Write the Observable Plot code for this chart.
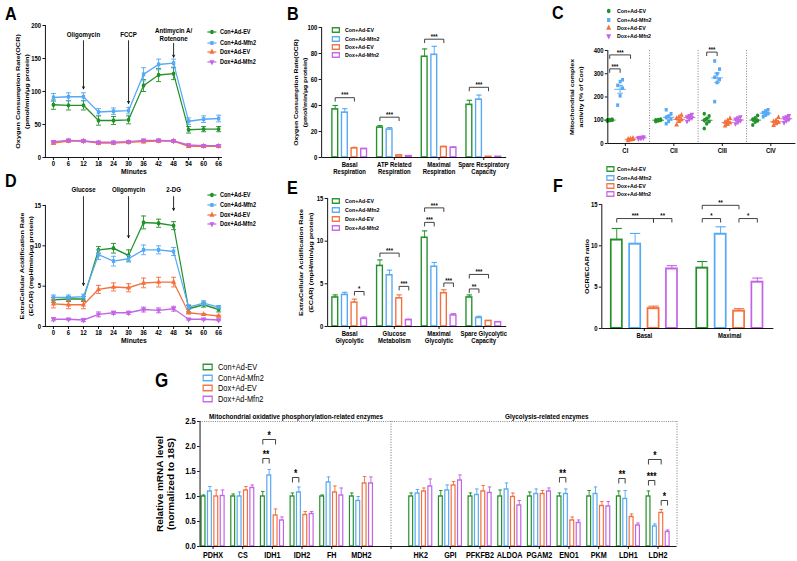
<!DOCTYPE html>
<html>
<head>
<meta charset="utf-8">
<script src="https://cdn.jsdelivr.net/npm/d3@7"></script>
<script src="https://cdn.jsdelivr.net/npm/@observablehq/plot@0.6"></script>
<style>
  html, body { margin: 0; padding: 0; background: #fff; overflow: hidden; }
  #wrap { position: relative; width: 797px; height: 561px; overflow: hidden; background: #fff; }
  #fig { position: absolute; left: 0; top: 0; height: 561px; transform-origin: 0 0;
         font-family: 'Liberation Sans', Arial, Helvetica, sans-serif; color: #000; }
  .letter { position: absolute; font-weight: bold; line-height: 1; }
  .legtext { position: absolute; line-height: 1; transform: translateY(-50%); white-space: nowrap; }
</style>
</head>
<body>
<div id="wrap"><div id="fig"></div></div>
<script>
// ================= DATA =================
const groups = ["Con+Ad-EV", "Con+Ad-Mfn2", "Dox+Ad-EV", "Dox+Ad-Mfn2"];
const colors = ["#23912a", "#56a9f5", "#f4703d", "#c463e6"];

// A: OCR time course
const minutes = [0, 6, 12, 18, 24, 30, 36, 42, 48, 54, 60, 66];
const ocrConEV = [80, 79, 79, 56, 56, 57, 109, 125, 127, 42, 43, 43];
const ocrConEVErr = [7, 7, 7, 7, 6, 6, 9, 10, 9, 5, 4, 4];
const ocrConMfn2 = [91, 92, 92, 69, 70, 71, 126, 141, 143, 55, 58, 59];
const ocrConMfn2Err = [6, 6, 6, 5, 5, 5, 10, 8, 6, 5, 5, 5];
const ocrDoxEV = [22, 25, 25, 22, 22, 23, 24, 25, 25, 17, 17, 17];
const ocrDoxEVErr = [2, 2, 2, 2, 2, 2, 2, 2, 2, 2, 2, 2];
const ocrDoxMfn2 = [24, 26, 25, 23, 23, 24, 26, 26, 25, 19, 18, 18];
const ocrDoxMfn2Err = [1.5, 1.5, 1.5, 1.5, 1.5, 1.5, 1.5, 1.5, 1.5, 1.5, 1.5, 1.5];
const ocrTicks = [0, 50, 100, 150, 200];
const ocrInjLabels = ["Oligomycin", "FCCP", "Antimycin A/\nRotenone"];
const ocrInjTimes = [12, 30, 48];
const ocrInjLabelY = [186, 186, 186];
const ocrInjTop = [177, 177, 173];
const ocrInjEnd = [104, 82, 152];

// B: OCR parameters
const ocrParams = ["Basal\nRespiration", "ATP Related\nRespiration", "Maximal\nRespiration", "Spare Respiratory\nCapacity"];
const ocrParConEV = [37, 23, 77.5, 40.5];
const ocrParConEVErr = [3, 1.5, 6, 3.5];
const ocrParConMfn2 = [34.5, 21.5, 79, 44.5];
const ocrParConMfn2Err = [3, 1.5, 6.5, 3.5];
const ocrParDoxEV = [7, 1.5, 8, 0.5];
const ocrParDoxEVErr = [0.8, 0.4, 0.6, 0.2];
const ocrParDoxMfn2 = [6.5, 1, 7.5, 0.5];
const ocrParDoxMfn2Err = [0.5, 0.3, 0.6, 0.2];
const ocrParTicks = [0, 20, 40, 60, 80, 100];
const ocrParSig = [
  {c: 0, a: 0, b: 2, h: 46, label: "***"},
  {c: 1, a: 0, b: 2, h: 31, label: "***"},
  {c: 2, a: 0, b: 2, h: 91, label: "***"},
  {c: 3, a: 0, b: 2, h: 54, label: "***"}
];

// C: mitochondrial complex activity (individual points)
const complexes = ["CI", "CII", "CIII", "CIV"];
const cxConEV = [[97, 99, 100, 101, 102, 104], [95, 98, 100, 101, 102, 104], [65, 85, 95, 100, 108, 118, 128], [80, 92, 98, 104, 110, 120]];
const cxConMfn2 = [[165, 205, 238, 250, 266, 274], [85, 95, 105, 112, 118, 128, 145], [180, 262, 275, 285, 300, 320, 355], [115, 122, 128, 133, 140, 145]];
const cxDoxEV = [[12, 15, 17, 19, 21, 23], [80, 95, 102, 108, 115, 122], [75, 82, 88, 92, 98, 108], [78, 85, 90, 95, 100, 112]];
const cxDoxMfn2 = [[20, 22, 24, 26, 27, 29], [95, 105, 110, 115, 120, 125], [85, 92, 98, 105, 110, 115], [90, 98, 104, 110, 115, 120]];
const cxTicks = [0, 100, 200, 300, 400];
const cxSig = [
  {c: 0, a: 0, b: 1, h: 321, label: "***"},
  {c: 0, a: 0, b: 2, h: 381, label: "***"},
  {c: 2, a: 0, b: 1, h: 393, label: "***"}
];

// D: ECAR time course
const ecarConEV = [3.3, 3.4, 3.4, 9.5, 9.7, 8.8, 12.9, 12.8, 12.5, 2.2, 2.7, 2.1];
const ecarConEVErr = [0.3, 0.3, 0.3, 0.4, 0.6, 0.7, 0.8, 0.5, 0.5, 0.4, 0.3, 0.3];
const ecarConMfn2 = [3.6, 3.6, 3.7, 8.9, 8.1, 8.4, 9.5, 9.5, 9.3, 2.4, 2.9, 2.4];
const ecarConMfn2Err = [0.3, 0.3, 0.3, 0.6, 0.6, 0.4, 0.6, 0.5, 0.5, 0.3, 0.3, 0.2];
const ecarDoxEV = [2.8, 2.7, 2.7, 4.6, 4.9, 4.8, 5.4, 5.5, 5.5, 1.7, 1.5, 1.3];
const ecarDoxEVErr = [0.5, 0.5, 0.5, 0.5, 0.5, 0.5, 0.6, 0.6, 0.6, 0.1, 0.1, 0.1];
const ecarDoxMfn2 = [0.9, 0.9, 0.8, 1.5, 1.7, 1.7, 2.1, 2.0, 2.2, 0.9, 0.9, 0.8];
const ecarDoxMfn2Err = [0.2, 0.1, 0.2, 0.3, 0.2, 0.2, 0.3, 0.3, 0.3, 0.1, 0.1, 0.1];
const ecarTicks = [0, 5, 10, 15];
const ecarInjLabels = ["Glucose", "Oligomycin", "2-DG"];
const ecarInjTimes = [12, 30, 48];
const ecarInjLabelY = [17.0, 17.0, 17.0];
const ecarInjTop = [16.1, 16.1, 16.1];
const ecarInjEnd = [5.1, 11.0, 14.4];

// E: ECAR parameters
const ecarParams = ["Basal\nGlycolytic", "Glucose\nMetabolism", "Maximal\nGlycolytic", "Spare Glycolytic\nCapacity"];
const ecarParConEV = [3.4, 7.1, 10.4, 3.4];
const ecarParConEVErr = [0.3, 0.7, 0.8, 0.3];
const ecarParConMfn2 = [3.7, 6.0, 7.0, 1.0];
const ecarParConMfn2Err = [0.3, 0.6, 0.5, 0.2];
const ecarParDoxEV = [2.8, 3.3, 3.9, 0.65];
const ecarParDoxEVErr = [0.4, 0.4, 0.4, 0.05];
const ecarParDoxMfn2 = [0.9, 0.75, 1.3, 0.5];
const ecarParDoxMfn2Err = [0.2, 0.1, 0.2, 0.05];
const ecarParSig = [
  {c: 0, a: 2, b: 3, h: 4.1, label: "*"},
  {c: 1, a: 0, b: 2, h: 8.6, label: "***"},
  {c: 1, a: 2, b: 3, h: 4.7, label: "***"},
  {c: 2, a: 0, b: 1, h: 12.2, label: "***"},
  {c: 2, a: 0, b: 2, h: 13.9, label: "***"},
  {c: 2, a: 2, b: 3, h: 5.1, label: "***"},
  {c: 3, a: 0, b: 1, h: 4.4, label: "**"},
  {c: 3, a: 0, b: 2, h: 6.1, label: "***"}
];

// F: OCR/ECAR ratio
const ratioCats = ["Basal", "Maximal"];
const ratioConEV = [10.7, 7.3];
const ratioConEVErr = [1.4, 0.8];
const ratioConMfn2 = [10.2, 11.4];
const ratioConMfn2Err = [1.3, 0.9];
const ratioDoxEV = [2.4, 2.1];
const ratioDoxEVErr = [0.3, 0.3];
const ratioDoxMfn2 = [7.2, 5.6];
const ratioDoxMfn2Err = [0.4, 0.5];
const ratioTicks = [0, 5, 10, 15];
const ratioSig = [
  {c: 0, a: 0, b: 2, h: 13.3, label: "***"},
  {c: 0, a: 2, b: 3, h: 13.3, label: "**"},
  {c: 1, a: 0, b: 2, h: 14.9, label: "**"},
  {c: 1, a: 0, b: 1, h: 13.3, label: "*"},
  {c: 1, a: 2, b: 3, h: 13.3, label: "*"}
];

// G: relative mRNA levels
const mitoGenes = ["PDHX", "CS", "IDH1", "IDH2", "FH", "MDH2"];
const glycoGenes = ["HK2", "GPI", "PFKFB2", "ALDOA", "PGAM2", "ENO1", "PKM", "LDH1", "LDH2"];
const mrnaConEV = [1, 1, 1, 1, 1, 1, 1, 1, 1, 1, 1, 1, 1, 1, 1];
const mrnaConEVErr = [0.03, 0.05, 0.1, 0.07, 0.03, 0.07, 0.07, 0.12, 0.07, 0.13, 0.09, 0.07, 0.12, 0.11, 0.11];
const mrnaConMfn2 = [1.10, 1.00, 1.42, 1.08, 1.28, 0.91, 1.06, 1.12, 1.03, 1.14, 1.05, 1.05, 1.05, 0.95, 0.40];
const mrnaConMfn2Err = [0.1, 0.09, 0.12, 0.11, 0.11, 0.09, 0.08, 0.11, 0.12, 0.13, 0.1, 0.1, 0.14, 0.17, 0.05];
const mrnaDoxEV = [1.00, 1.12, 0.62, 0.63, 1.08, 1.26, 1.10, 1.22, 1.10, 0.99, 1.05, 0.52, 0.81, 0.59, 0.67];
const mrnaDoxEVErr = [0.13, 0.08, 0.13, 0.07, 0.13, 0.14, 0.07, 0.08, 0.12, 0.08, 0.07, 0.07, 0.09, 0.06, 0.07];
const mrnaDoxMfn2 = [1.01, 1.17, 0.52, 0.65, 1.02, 1.26, 1.20, 1.32, 1.07, 0.82, 1.10, 0.47, 0.80, 0.42, 0.29];
const mrnaDoxMfn2Err = [0.12, 0.06, 0.07, 0.05, 0.15, 0.13, 0.15, 0.11, 0.12, 0.1, 0.07, 0.06, 0.1, 0.05, 0.04];
const mrnaTicks = [0, 0.5, 1.0, 1.5, 2.0, 2.5];
const mrnaSig = [
  {gene: "IDH1", a: 0, b: 1, h: 1.76, label: "**"},
  {gene: "IDH1", a: 0, b: 2, h: 2.14, label: "*"},
  {gene: "IDH2", a: 0, b: 1, h: 1.38, label: "*"},
  {gene: "ENO1", a: 0, b: 1, h: 1.38, label: "**"},
  {gene: "LDH1", a: 0, b: 1, h: 1.36, label: "**"},
  {gene: "LDH2", a: 0, b: 1, h: 1.32, label: "***"},
  {gene: "LDH2", a: 0, b: 2, h: 1.74, label: "*"},
  {gene: "LDH2", a: 2, b: 3, h: 0.92, label: "*"}
];
const sectionLabels = ["Mitochondrial oxidative phosphorylation-related enzymes", "Glycolysis-related enzymes"];
const sectionCenters = [2.8, 11.25];

// ================= LAYOUT / HELPERS =================
const SX = 0.85;                 // horizontal compression of the whole figure
const ux = x => x / SX;
const FONT = "'Liberation Sans', Arial, Helvetica, sans-serif";
const SP = 0.215, BW = 0.13, CAP = 0.06;   // in category units
const fig = document.getElementById("fig");
fig.style.width = ux(797) + "px";
fig.style.transform = `scaleX(${SX})`;

const triDown = {
  draw(context, size) {
    const y = Math.sqrt(size / (Math.sqrt(3) * 3)), s3 = Math.sqrt(3);
    context.moveTo(0, 2 * y);
    context.lineTo(s3 * y, -y);
    context.lineTo(-s3 * y, -y);
    context.closePath();
  }
};
const plotSymbols = ["circle", "square", "triangle", triDown];
const d3Symbols = [d3.symbolCircle, d3.symbolSquare, d3.symbolTriangle, triDown];

function place(node, left, top) {
  node.style.position = "absolute";
  node.style.left = left + "px";
  node.style.top = top + "px";
  fig.appendChild(node);
  return node;
}

function panel({left, top, width, height, mt, mr, mb, ml, xDomain, yDomain, marks}) {
  const svg = Plot.plot({
    width: ux(width), height,
    marginTop: mt, marginRight: ux(mr), marginBottom: mb, marginLeft: ux(ml),
    x: {domain: xDomain}, y: {domain: yDomain},
    style: {fontFamily: FONT, fontSize: "7px", fontWeight: "bold", background: "transparent", overflow: "visible", color: "#000"},
    marks
  });
  place(svg, ux(left), top);
}

function yTitle(title, dx, fontSize, lineHeight = 1.5) {
  return Plot.text([title], {frameAnchor: "left", textAnchor: "middle", dx: ux(dx), rotate: -90, text: d => d, fontSize, lineHeight});
}

function axisLines(xDomain, yDomain) {
  return [
    Plot.ruleX([xDomain[0]], {stroke: "#000", strokeWidth: 1}),
    Plot.ruleY([yDomain[0]], {stroke: "#000", strokeWidth: 1})
  ];
}

function sigMarks(sig, {tick, font, dy}) {
  const xa = b => b.c + (b.a - 1.5) * SP, xb = b => b.c + (b.b - 1.5) * SP;
  const st = {stroke: "#333", strokeWidth: 1};
  return [
    Plot.link(sig, {x1: xa, x2: xb, y1: "h", y2: "h", ...st}),
    Plot.link(sig, {x1: xa, x2: xa, y1: "h", y2: b => b.h - tick, ...st}),
    Plot.link(sig, {x1: xb, x2: xb, y1: "h", y2: b => b.h - tick, ...st}),
    Plot.text(sig, {x: b => (xa(b) + xb(b)) / 2, y: "h", text: "label", fontSize: font, dy, lineAnchor: "middle"})
  ];
}

function barMarks(rows, {stroke = 1.7, errW = 1.1}) {
  const marks = [];
  groups.forEach((g, k) => {
    const r = rows.filter(d => d.k === k);
    const xc = d => d.c + (k - 1.5) * SP;
    marks.push(
      Plot.ruleX(r, {x: xc, y1: "v", y2: d => d.v + d.e, stroke: colors[k], strokeWidth: errW}),
      Plot.link(r, {x1: d => xc(d) - CAP, x2: d => xc(d) + CAP, y1: d => d.v + d.e, y2: d => d.v + d.e, stroke: colors[k], strokeWidth: errW}),
      Plot.rect(r, {x1: d => xc(d) - BW / 2, x2: d => xc(d) + BW / 2, y1: () => 0, y2: "v", fill: "#fff", stroke: colors[k], strokeWidth: stroke})
    );
  });
  return marks;
}

function legend({x, ys, textX, kind, fontSize, weight = "bold", swW = 7, swH = 4.5}) {
  groups.forEach((g, k) => {
    const w = ux(kind === "line" ? 9 : swW) + 4, h = 10;
    const svg = d3.create("svg").attr("width", w).attr("height", h).style("overflow", "visible");
    const cx = w / 2, cy = h / 2;
    if (kind === "line") {
      svg.append("line").attr("x1", 2).attr("x2", w - 2).attr("y1", cy).attr("y2", cy)
        .attr("stroke", colors[k]).attr("stroke-width", 1.2);
    }
    if (kind === "line" || kind === "marker") {
      svg.append("path").attr("d", d3.symbol(d3Symbols[k], 15)())
        .attr("transform", `translate(${cx},${cy})`).attr("fill", colors[k]);
    }
    if (kind === "rect") {
      svg.append("rect").attr("x", 2).attr("y", cy - swH / 2).attr("width", ux(swW)).attr("height", swH)
        .attr("fill", "#fff").attr("stroke", colors[k]).attr("stroke-width", 1.4);
    }
    place(svg.node(), ux(x) - w / 2, ys[k] - h / 2);
    const t = document.createElement("div");
    t.className = "legtext";
    t.textContent = g;
    t.style.fontSize = fontSize + "px";
    t.style.fontWeight = weight;
    place(t, ux(textX), ys[k]);
  });
}

// ---------- line panels (A, D) ----------
function linePanel(cfg) {
  const xDomain = [-3.2, 67.5];
  const rows = cfg.series.map(([vals, errs]) => minutes.map((t, i) => ({t, v: vals[i], e: errs[i]})));
  const inj = cfg.injLabels.map((label, i) => ({label, t: cfg.injTimes[i], ly: cfg.injLabelY[i], y1: cfg.injTop[i], y2: cfg.injEnd[i]}));
  const marks = [
    Plot.axisY({ticks: cfg.yTicks, tickSize: 3, tickPadding: 2, label: null, fontSize: 7}),
    Plot.axisX({ticks: minutes, tickSize: 3, tickPadding: 1, label: null, fontSize: 7}),
    yTitle(cfg.title, cfg.titleDx, cfg.titleSize),
    Plot.text(["Minutes"], {frameAnchor: "bottom", dy: 16.5, text: d => d, fontSize: 8}),
    Plot.arrow(inj, {x1: "t", x2: "t", y1: "y1", y2: "y2", headLength: 4, headAngle: 60, strokeWidth: 0.9, stroke: "#000"}),
    Plot.text(inj, {x: "t", y: "ly", text: "label", fontSize: 7.2, lineHeight: 1.1})
  ];
  rows.forEach((r, k) => {
    const st = {stroke: colors[k], strokeWidth: 1};
    marks.push(
      Plot.ruleX(r, {x: "t", y1: d => d.v - d.e, y2: d => d.v + d.e, ...st}),
      Plot.link(r, {x1: d => d.t - 1, x2: d => d.t + 1, y1: d => d.v + d.e, y2: d => d.v + d.e, ...st}),
      Plot.link(r, {x1: d => d.t - 1, x2: d => d.t + 1, y1: d => d.v - d.e, y2: d => d.v - d.e, ...st}),
      Plot.line(r, {x: "t", y: "v", stroke: colors[k], strokeWidth: 1.4}),
      Plot.dot(r, {x: "t", y: "v", fill: colors[k], symbol: plotSymbols[k], r: 2.2})
    );
  });
  marks.push(...axisLines(xDomain, cfg.yDomain));
  panel({...cfg.geom, xDomain, yDomain: cfg.yDomain, marks});
}

// ---------- grouped bar panels (B, E, F) ----------
function groupedBarPanel(cfg) {
  const rows = cfg.series.flatMap(([vals, errs], k) => vals.map((v, c) => ({c, k, v, e: errs[c]})));
  const marks = [
    Plot.axisY({ticks: cfg.yTicks, tickSize: 3, tickPadding: 2, label: null, fontSize: 7}),
    Plot.axisX({ticks: d3.range(cfg.cats.length), tickFormat: i => cfg.cats[i], tickSize: 3, tickPadding: 2, label: null, fontSize: 7}),
    yTitle(cfg.title, cfg.titleDx, cfg.titleSize),
    ...barMarks(rows, {stroke: cfg.barStroke}),
    ...sigMarks(cfg.sig, {tick: cfg.tick, font: 7, dy: -2.5}),
    ...axisLines(cfg.xDomain, cfg.yDomain)
  ];
  panel({...cfg.geom, xDomain: cfg.xDomain, yDomain: cfg.yDomain, marks});
}

// ================= PANELS =================
// A
linePanel({
  geom: {left: 0, top: 0, width: 270, height: 185, mt: 25, mr: 48, mb: 28, ml: 45},
  yDomain: [0, 200], yTicks: ocrTicks,
  series: [[ocrConEV, ocrConEVErr], [ocrConMfn2, ocrConMfn2Err], [ocrDoxEV, ocrDoxEVErr], [ocrDoxMfn2, ocrDoxMfn2Err]],
  title: "Oxygen Consumption Rate(OCR)\n(pmol/min/μg protein)", titleDx: -24, titleSize: 7.3,
  injLabels: ocrInjLabels, injTimes: ocrInjTimes, injLabelY: ocrInjLabelY, injTop: ocrInjTop, injEnd: ocrInjEnd
});

// D
linePanel({
  geom: {left: 0, top: 180, width: 270, height: 175, mt: 25, mr: 48, mb: 29, ml: 45},
  yDomain: [0, 15], yTicks: ecarTicks,
  series: [[ecarConEV, ecarConEVErr], [ecarConMfn2, ecarConMfn2Err], [ecarDoxEV, ecarDoxEVErr], [ecarDoxMfn2, ecarDoxMfn2Err]],
  title: "ExtraCellular Acidification Rate\n(ECAR) (mpH/min/μg protein)", titleDx: -20, titleSize: 7.2,
  injLabels: ecarInjLabels, injTimes: ecarInjTimes, injLabelY: ecarInjLabelY, injTop: ecarInjTop, injEnd: ecarInjEnd
});

// B
groupedBarPanel({
  geom: {left: 265, top: 0, width: 270, height: 185, mt: 27, mr: 29, mb: 28, ml: 56},
  xDomain: [-0.626, 3.512], yDomain: [0, 100], yTicks: ocrParTicks, cats: ocrParams,
  series: [[ocrParConEV, ocrParConEVErr], [ocrParConMfn2, ocrParConMfn2Err], [ocrParDoxEV, ocrParDoxEVErr], [ocrParDoxMfn2, ocrParDoxMfn2Err]],
  sig: ocrParSig, tick: 3,
  title: "Oxygen Consumption Rate(OCR)\n(pmol/min/μg protein)", titleDx: -22, titleSize: 6.8, barStroke: 1.6
});

// E
groupedBarPanel({
  geom: {left: 265, top: 190, width: 270, height: 165, mt: 8, mr: 29, mb: 29, ml: 62},
  xDomain: [-0.492, 3.512], yDomain: [0, 15], yTicks: ecarTicks, cats: ecarParams,
  series: [[ecarParConEV, ecarParConEVErr], [ecarParConMfn2, ecarParConMfn2Err], [ecarParDoxEV, ecarParDoxEVErr], [ecarParDoxMfn2, ecarParDoxMfn2Err]],
  sig: ecarParSig, tick: 0.47,
  title: "ExtraCellular Acidification Rate\n(ECAR) (mpH/min/μg protein)", titleDx: -22.5, titleSize: 7.2, barStroke: 1.6
});

// F
groupedBarPanel({
  geom: {left: 530, top: 190, width: 267, height: 165, mt: 14, mr: 24, mb: 27, ml: 71},
  xDomain: [-0.497, 1.515], yDomain: [0, 15], yTicks: ratioTicks, cats: ratioCats,
  series: [[ratioConEV, ratioConEVErr], [ratioConMfn2, ratioConMfn2Err], [ratioDoxEV, ratioDoxEVErr], [ratioDoxMfn2, ratioDoxMfn2Err]],
  sig: ratioSig, tick: 0.48,
  title: "OCR/ECAR ratio", titleDx: -16, titleSize: 7.1, barStroke: 2
});

// C (scatter dot plot with mean ± SEM)
(function () {
  const xDomain = [-0.361, 3.515], yDomain = [0, 400];
  const series = [cxConEV, cxConMfn2, cxDoxEV, cxDoxMfn2];
  const marks = [
    Plot.axisY({ticks: cxTicks, tickSize: 3, tickPadding: 2, label: null, fontSize: 7}),
    Plot.axisX({ticks: d3.range(complexes.length), tickFormat: i => complexes[i], tickSize: 3, tickPadding: 2, label: null, fontSize: 7}),
    yTitle("Mitochondrial complex\nactivity (% of Con)", -32, 7),
    Plot.ruleX(d3.range(1, complexes.length).map(i => i - 0.5), {stroke: "#555", strokeWidth: 0.8, strokeDasharray: "1,1.6"})
  ];
  series.forEach((perComplex, k) => {
    const pts = [], stats = [];
    perComplex.forEach((vals, c) => {
      d3.sort(vals).forEach((v, rank) => pts.push({c, v, o: ((rank % 3) - 1) * 0.05}));
      stats.push({c, m: d3.mean(vals), s: d3.deviation(vals) / Math.sqrt(vals.length)});
    });
    const xc = d => d.c + (k - 1.5) * SP;
    const st = {stroke: colors[k], strokeWidth: 1};
    marks.push(
      Plot.dot(pts, {x: d => xc(d) + d.o, y: "v", fill: colors[k], symbol: plotSymbols[k], r: 2}),
      Plot.link(stats, {x1: d => xc(d) - 0.12, x2: d => xc(d) + 0.12, y1: "m", y2: "m", ...st}),
      Plot.ruleX(stats, {x: xc, y1: d => d.m - d.s, y2: d => d.m + d.s, ...st}),
      Plot.link(stats, {x1: d => xc(d) - 0.06, x2: d => xc(d) + 0.06, y1: d => d.m + d.s, y2: d => d.m + d.s, ...st}),
      Plot.link(stats, {x1: d => xc(d) - 0.06, x2: d => xc(d) + 0.06, y1: d => d.m - d.s, y2: d => d.m - d.s, ...st})
    );
  });
  marks.push(...sigMarks(cxSig, {tick: 17, font: 7, dy: -2.5}), ...axisLines(xDomain, yDomain));
  panel({left: 530, top: 0, width: 267, height: 165, mt: 50, mr: 2, mb: 22, ml: 77, xDomain, yDomain, marks});
})();

// G
(function () {
  const geneSlots = [...mitoGenes, "", ...glycoGenes];
  const genes = [...mitoGenes, ...glycoGenes];
  const gap = geneSlots.indexOf("");
  const xDomain = [-0.438, 15.64], yDomain = [0, 2.5];
  const series = [[mrnaConEV, mrnaConEVErr], [mrnaConMfn2, mrnaConMfn2Err], [mrnaDoxEV, mrnaDoxEVErr], [mrnaDoxMfn2, mrnaDoxMfn2Err]];
  const rows = series.flatMap(([vals, errs], k) => genes.map((g, i) => ({c: geneSlots.indexOf(g), k, v: vals[i], e: errs[i]})));
  const sig = mrnaSig.map(s => ({...s, c: geneSlots.indexOf(s.gene)}));
  const sections = sectionLabels.map((label, i) => ({label, x: sectionCenters[i]}));
  const dotted = {stroke: "#555", strokeWidth: 0.9, strokeDasharray: "1,1.6"};
  const marks = [
    Plot.axisY({ticks: mrnaTicks, tickFormat: d => Number(d).toFixed(1), tickSize: 3, tickPadding: 2, label: null, fontSize: 9}),
    Plot.axisX({ticks: d3.range(geneSlots.length), tickFormat: i => geneSlots[i], tickSize: 3, tickPadding: 2, label: null, fontSize: 8.5}),
    yTitle("Relative mRNA level\n(normalized to 18S)", -35, 10, 1.3),
    Plot.ruleY([yDomain[1]], dotted),
    Plot.ruleX([xDomain[1]], dotted),
    Plot.ruleX([gap], dotted),
    Plot.text(sections, {x: "x", frameAnchor: "top", dy: -8, text: "label", fontSize: 7.5}),
    ...barMarks(rows, {stroke: 1.4, errW: 1}),
    ...sigMarks(sig, {tick: 0.1, font: 10, dy: -4}),
    ...axisLines(xDomain, yDomain)
  ];
  panel({left: 150, top: 395, width: 540, height: 166, mt: 26, mr: 13, mb: 15, ml: 50, xDomain, yDomain, marks});
})();

// ================= LEGENDS =================
legend({x: 212, ys: [32, 42.5, 52, 62], textX: 220, kind: "line", fontSize: 6.5});
legend({x: 212, ys: [195, 205, 214.5, 224], textX: 220, kind: "line", fontSize: 6.5});
legend({x: 336, ys: [30, 38.7, 46.7, 54.7], textX: 345, kind: "rect", fontSize: 6.2});
legend({x: 336, ys: [201, 210, 219, 228], textX: 345, kind: "rect", fontSize: 6.2});
legend({x: 609, ys: [11, 20, 28, 36], textX: 617, kind: "marker", fontSize: 6.2});
legend({x: 610, ys: [169, 178, 186, 194], textX: 617, kind: "rect", fontSize: 6.2});
legend({x: 208, ys: [367, 377.5, 388, 398.5], textX: 218, kind: "rect", fontSize: 8.7, weight: "normal", swW: 9, swH: 5.5});

// ================= PANEL LETTERS =================
const panelLetters = ["A", "B", "C", "D", "E", "F", "G"];
const letterLeft = [5, 287, 552, 5, 287, 553, 155];
const letterCapTop = [6, 6, 5, 173, 180, 178, 373];
const letterSize = [19, 19, 19, 19, 19, 19, 20];
panelLetters.forEach((L, i) => {
  const d = document.createElement("div");
  d.className = "letter";
  d.textContent = L;
  d.style.fontSize = letterSize[i] + "px";
  place(d, ux(letterLeft[i]), letterCapTop[i] - 0.13 * letterSize[i]);
});
</script>
</body>
</html>
